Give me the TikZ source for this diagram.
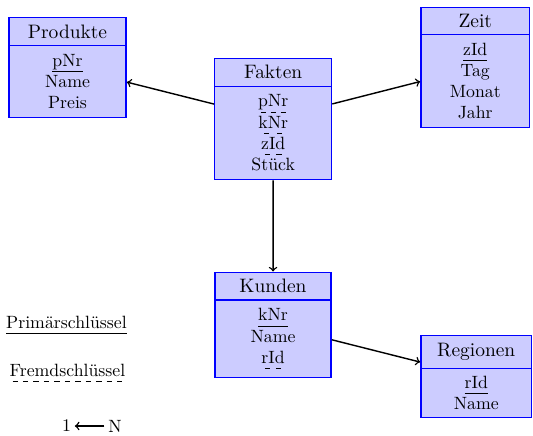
\documentclass[tikz,border=0pt]{standalone}
\usetikzlibrary{fit}
\newlength\pxu
\setlength\pxu{0.5629pt}
\newsavebox\keybox
\newcommand\pkey[1]{\sbox\keybox{#1}\leavevmode\rlap{\usebox\keybox}\raisebox{-3.2pt}{\hbox to \wd\keybox{\leaders\vrule height .4pt\hfill}}}
\newcommand\fkey[1]{\sbox\keybox{#1}\leavevmode\rlap{\usebox\keybox}\raisebox{-3.2pt}{\hbox to \wd\keybox{\xleaders\hbox to .56em{\hss\vrule width .3em height .4pt\hss}\hfill}}}
\tikzset{
  ent/.style={draw=blue, fill=blue!20, line width=0.6pt, inner sep=0pt, align=center},
  head/.style={ent, font=\fontsize{10.95}{13.6}\selectfont},
  grp/.style={inner sep=0pt},
  rel/.style={->, line width=0.8pt, black},
  legtxt/.style={inner sep=2pt}
}
\begin{document}
\begin{tikzpicture}[x=0.5629pt, y=-0.5629pt]
\useasboundingbox (0,0) rectangle (533,435);
% Produkte
\node[head, minimum width=117*\pxu, minimum height=28.4*\pxu] (ph) at (67.5,31.5) {Produkte};
\node[ent, minimum width=117*\pxu, minimum height=71.3*\pxu] (pb) at (67.5,81.4) {\pkey{pNr}\\Name\\Preis};
\node[grp, fit=(ph)(pb)] (P) {};
% Fakten
\node[head, minimum width=116.5*\pxu, minimum height=27.7*\pxu] (fh) at (273.2,72.2) {Fakten};
\node[ent, minimum width=116.5*\pxu, minimum height=93.5*\pxu] (fb) at (273.2,132.8) {\fkey{pNr}\\\fkey{kNr}\\\fkey{zId}\\Stück};
\node[grp, fit=(fh)(fb)] (F) {};
% Zeit
\node[head, minimum width=108.5*\pxu, minimum height=27*\pxu] (zh) at (475.25,20.8) {Zeit};
\node[ent, minimum width=108.5*\pxu, minimum height=93.4*\pxu] (zb) at (475.25,81) {\pkey{zId}\\Tag\\Monat\\Jahr};
\node[grp, fit=(zh)(zb)] (Z) {};
% Kunden
\node[head, minimum width=116*\pxu, minimum height=27.7*\pxu] (kh) at (273,286.2) {Kunden};
\node[ent, minimum width=116*\pxu, minimum height=77.5*\pxu] (kb) at (273,338.75) {\pkey{kNr}\\Name\\\fkey{rId}};
\node[grp, fit=(kh)(kb)] (K) {};
% Regionen
\node[head, minimum width=110.5*\pxu, minimum height=33.3*\pxu] (rh) at (476.25,351.7) {Regionen};
\node[ent, minimum width=110.5*\pxu, minimum height=49*\pxu] (rb) at (476.25,392.8) {\pkey{rId}\\Name};
\node[grp, fit=(rh)(rb)] (R) {};
% relations
\draw[rel] (F) -- (P);
\draw[rel] (F) -- (Z);
\draw[rel] (F) -- (K);
\draw[rel] (K) -- (R);
% legend
\node (lp) at (66.5,325) {\pkey{Primärschlüssel}};
\node (lf) at (67.5,373) {\fkey{Fremdschlüssel}};
\node[legtxt] (l1) at (66.5,426) {1};
\node[legtxt] (lN) at (115,426) {N};
\draw[rel] (lN) -- (l1);
\end{tikzpicture}
\end{document}
